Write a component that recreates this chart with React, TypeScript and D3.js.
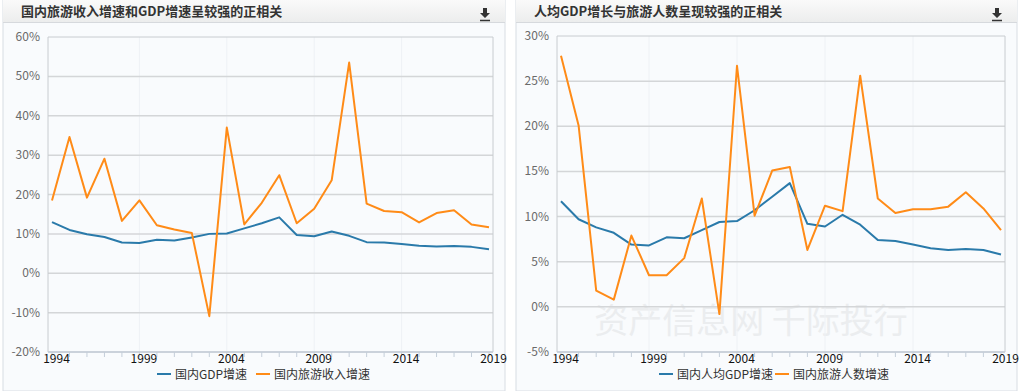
import React from "react";
import * as d3 from "d3";

const years = d3.range(1994, 2020);

const gdpGrowth = [13.0, 11.0, 9.9, 9.2, 7.8, 7.7, 8.5, 8.3, 9.1, 10.0, 10.1, 11.4, 12.7, 14.2, 9.7, 9.4, 10.6, 9.5, 7.9, 7.8, 7.4, 7.0, 6.8, 6.9, 6.7, 6.1];
const tourismIncome = [18.5, 34.6, 19.2, 29.1, 13.3, 18.5, 12.2, 11.1, 10.2, -10.9, 37.0, 12.4, 17.9, 24.9, 12.7, 16.4, 23.6, 53.5, 17.7, 15.8, 15.5, 12.9, 15.3, 16.0, 12.4, 11.7];

const gdpPerCapita = [11.7, 9.7, 8.8, 8.2, 6.9, 6.8, 7.7, 7.6, 8.5, 9.4, 9.5, 10.7, 12.2, 13.7, 9.2, 8.9, 10.2, 9.1, 7.4, 7.3, 6.9, 6.5, 6.3, 6.4, 6.3, 5.8];
const touristCount = [27.8, 20.1, 1.8, 0.8, 7.9, 3.5, 3.5, 5.4, 12.0, -0.8, 26.7, 10.1, 15.1, 15.5, 6.3, 11.2, 10.6, 25.6, 12.0, 10.4, 10.8, 10.8, 11.1, 12.7, 10.9, 8.5];

const leftTicks = [-20, -10, 0, 10, 20, 30, 40, 50, 60];
const rightTicks = [-5, 0, 5, 10, 15, 20, 25, 30];
const labelYears = [1994, 1999, 2004, 2009, 2014, 2019];

const BLUE = "#2a7aaa";
const ORANGE = "#ff8b17";
const FONT = "'Noto Sans CJK SC', 'Noto Sans', sans-serif";

type PanelProps = {
  x0: number;
  x1: number;
  title: string;
  plot: { left: number; right: number; top: number; bottom: number; first: number; last: number };
  ticks: number[];
  series: { name: string; values: number[]; color: string }[];
  legendX: number[];
  watermark?: boolean;
};

function Panel({ x0, x1, title, plot, ticks, series, legendX, watermark }: PanelProps) {
  const x = d3.scaleLinear().domain([1994, 2019]).range([plot.first, plot.last]);
  const y = d3
    .scaleLinear()
    .domain([ticks[0], ticks[ticks.length - 1]])
    .range([plot.bottom, plot.top]);
  const line = d3
    .line<number>()
    .x((_, i) => x(years[i]))
    .y((d) => y(d));

  return (
    <g>
      <rect x={x0} y={0} width={x1 - x0} height={391} fill="#f9fbfd" stroke="#d8dde3" />
      <rect x={x0} y={0} width={x1 - x0} height={22} fill="url(#titleGrad)" />
      <line x1={x0} x2={x1} y1={22.5} y2={22.5} stroke="#d6d9dd" />
      <text x={x0 + 18} y={16} fontSize={13} fontWeight="bold" fill="#333" fontFamily={FONT}>
        {title}
      </text>
      <g transform={`translate(${x1 - 20},0)`}>
        <path d="M-2,8 h4 v5 h3 l-5,5 l-5,-5 h3 z" fill="#333" />
        <line x1={-5} x2={5} y1={20.5} y2={20.5} stroke="#333" strokeWidth={1.5} />
      </g>

      {watermark && (
        <text x={751} y={333} textAnchor="middle" fontSize={34} fill="#ebedef" fontFamily={FONT}>
          资产信息网 千际投行
        </text>
      )}

      {labelYears.slice(1, -1).map((yr) => (
        <line key={yr} x1={x(yr)} x2={x(yr)} y1={plot.top} y2={plot.bottom} stroke="#eef1f5" />
      ))}
      {ticks.map((t) => (
        <g key={t}>
          <line
            x1={plot.left}
            x2={plot.right}
            y1={y(t)}
            y2={y(t)}
            stroke={t === ticks[ticks.length - 1] ? "#c8ccd0" : "#d4d6d8"}
            strokeWidth={t === ticks[ticks.length - 1] ? 1 : 1.5}
          />
          <text x={plot.left - 8} y={y(t) + 4} textAnchor="end" fontSize={12} fill="#6a6a6a" fontFamily={FONT}>
            {t}%
          </text>
        </g>
      ))}
      <line x1={plot.left} x2={plot.left} y1={plot.top} y2={plot.bottom} stroke="#c8ccd0" />
      <line x1={plot.right} x2={plot.right} y1={plot.top} y2={plot.bottom} stroke="#c8ccd0" />
      <line x1={plot.left} x2={plot.right} y1={plot.bottom} y2={plot.bottom} stroke="#c4ced9" strokeWidth={1.5} />
      {years.map((yr) => (
        <line key={yr} x1={x(yr)} x2={x(yr)} y1={plot.bottom} y2={plot.bottom + 5} stroke="#c4ced9" />
      ))}
      {labelYears.map((yr) => (
        <text key={yr} x={x(yr) + 4.5} y={363} textAnchor="middle" fontSize={12} fill="#111" fontFamily={FONT}>
          {yr}
        </text>
      ))}

      {series.map((s) => (
        <path key={s.name} d={line(s.values) || ""} fill="none" stroke={s.color} strokeWidth={2} strokeLinejoin="round" />
      ))}

      {series.map((s, i) => (
        <g key={s.name}>
          <line x1={legendX[i]} x2={legendX[i] + 14} y1={374} y2={374} stroke={s.color} strokeWidth={2} />
          <text x={legendX[i] + 18} y={378.5} fontSize={12} fill="#333" fontFamily={FONT}>
            {s.name}
          </text>
        </g>
      ))}
    </g>
  );
}

export default function App() {
  return (
    <svg width={1019} height={391} style={{ position: "absolute", left: 0, top: 0, background: "#fff" }}>
      <defs>
        <linearGradient id="titleGrad" x1="0" y1="0" x2="0" y2="1">
          <stop offset="0%" stopColor="#fafafa" />
          <stop offset="100%" stopColor="#eceded" />
        </linearGradient>
      </defs>
      <Panel
        x0={3}
        x1={505}
        title="国内旅游收入增速和GDP增速呈较强的正相关"
        plot={{ left: 48, right: 493, top: 37, bottom: 352, first: 52, last: 489 }}
        ticks={leftTicks}
        series={[
          { name: "国内GDP增速", values: gdpGrowth, color: BLUE },
          { name: "国内旅游收入增速", values: tourismIncome, color: ORANGE },
        ]}
        legendX={[157, 256]}
      />
      <Panel
        x0={516}
        x1={1017}
        title="人均GDP增长与旅游人数呈现较强的正相关"
        plot={{ left: 557, right: 1005, top: 36, bottom: 352, first: 561, last: 1001 }}
        ticks={rightTicks}
        series={[
          { name: "国内人均GDP增速", values: gdpPerCapita, color: BLUE },
          { name: "国内旅游人数增速", values: touristCount, color: ORANGE },
        ]}
        legendX={[659, 775]}
        watermark
      />
    </svg>
  );
}
